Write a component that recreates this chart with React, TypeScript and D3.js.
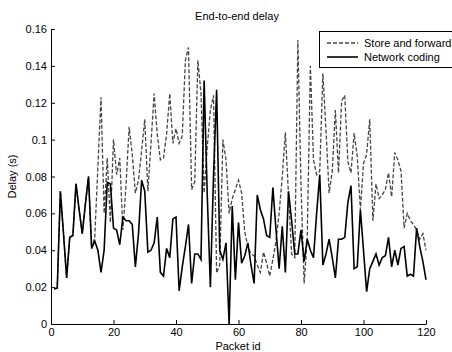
import * as d3 from "d3";
import { useRef, useEffect } from "react";

// packet ids 1..120
const packetIds = d3.range(1, 121);

const networkCoding = [
  0.019, 0.0195, 0.072, 0.049, 0.025, 0.047, 0.048, 0.076, 0.062, 0.049,
  0.065, 0.08, 0.041, 0.045, 0.04, 0.028, 0.04, 0.077, 0.076, 0.052,
  0.051, 0.043, 0.058, 0.056, 0.056, 0.054, 0.031, 0.049, 0.078, 0.072,
  0.039, 0.04, 0.044, 0.058, 0.028, 0.026, 0.041, 0.036, 0.057, 0.058,
  0.018, 0.031, 0.042, 0.054, 0.022, 0.038, 0.038, 0.035, 0.132, 0.07,
  0.02, 0.08, 0.127, 0.04, 0.035, 0.044, 0.0, 0.064, 0.024, 0.055,
  0.033, 0.037, 0.044, 0.032, 0.022, 0.07, 0.062, 0.057, 0.048, 0.047,
  0.074, 0.051, 0.03, 0.053, 0.028, 0.072, 0.056, 0.038, 0.038, 0.051,
  0.034, 0.046, 0.04, 0.036, 0.06, 0.081, 0.032, 0.038, 0.046, 0.036,
  0.025, 0.046, 0.046, 0.047, 0.066, 0.075, 0.03, 0.031, 0.062, 0.04,
  0.0175, 0.03, 0.034, 0.038, 0.032, 0.036, 0.037, 0.047, 0.031, 0.04,
  0.032, 0.041, 0.042, 0.026, 0.027, 0.026, 0.052, 0.042, 0.034, 0.024,
];

const storeAndForward = [
  0.019, 0.0195, 0.072, 0.049, 0.025, 0.047, 0.048, 0.076, 0.062, 0.049,
  0.065, 0.08, 0.041, 0.047, 0.085, 0.123, 0.06, 0.09, 0.055, 0.1,
  0.081, 0.09, 0.051, 0.075, 0.107, 0.092, 0.071, 0.078, 0.094, 0.111,
  0.072, 0.098, 0.125, 0.103, 0.089, 0.09, 0.103, 0.125, 0.098, 0.106,
  0.098, 0.102, 0.143, 0.15, 0.073, 0.077, 0.143, 0.125, 0.071, 0.096,
  0.116, 0.124, 0.0276, 0.032, 0.1, 0.089, 0.06, 0.068, 0.073, 0.078,
  0.071, 0.05, 0.042, 0.038, 0.037, 0.032, 0.028, 0.039, 0.033, 0.026,
  0.035, 0.045, 0.06, 0.08, 0.104, 0.07, 0.038, 0.036, 0.154, 0.075,
  0.022, 0.047, 0.14, 0.089, 0.081, 0.083, 0.136, 0.105, 0.071, 0.083,
  0.116, 0.082, 0.121, 0.124, 0.088, 0.082, 0.1035, 0.091, 0.062, 0.087,
  0.092, 0.111, 0.056, 0.076, 0.068, 0.07, 0.073, 0.082, 0.069, 0.093,
  0.089, 0.083, 0.052, 0.06, 0.056, 0.054, 0.051, 0.046, 0.049, 0.04,
];

const xTicks = [0, 20, 40, 60, 80, 100, 120];
const yTicks = [0, 0.02, 0.04, 0.06, 0.08, 0.1, 0.12, 0.14, 0.16];

export default function App() {
  const width = 452;
  const height = 352;
  const marginLeft = 51;
  const marginRight = 26;
  const marginTop = 29;
  const marginBottom = 28;
  const font = "'Liberation Sans', Arial, Helvetica, sans-serif";

  const gx = useRef(null);
  const gy = useRef(null);

  const x = d3.scaleLinear().domain([0, 120]).range([marginLeft, width - marginRight]);
  const y = d3.scaleLinear().domain([0, 0.16]).range([height - marginBottom, marginTop]);

  const line = d3
    .line<number>()
    .x((d, i) => x(packetIds[i]))
    .y((d) => y(d));

  useEffect(() => {
    const ax = d3
      .axisBottom(x)
      .tickValues(xTicks)
      .tickSizeInner(-4)
      .tickSizeOuter(0)
      .tickPadding(4)
      .tickFormat(d3.format("d"));
    const g = d3.select(gx.current).call(ax);
    g.attr("font-family", font).attr("font-size", 11);
    g.selectAll("text").attr("fill", "#000");
    g.selectAll("line, path").attr("stroke", "#000");
  }, []);

  useEffect(() => {
    const ay = d3
      .axisLeft(y)
      .tickValues(yTicks)
      .tickSizeInner(-4)
      .tickSizeOuter(0)
      .tickPadding(4)
      .tickFormat((d) => (d === 0 ? "0" : String(+(+d).toFixed(2))));
    const g = d3.select(gy.current).call(ay);
    g.attr("font-family", font).attr("font-size", 11);
    g.selectAll("text").attr("fill", "#000");
    g.selectAll("line, path").attr("stroke", "#000");
  }, []);

  return (
    <svg
      width={width}
      height={height}
      style={{ position: "absolute", left: 0, top: 0, background: "#fff" }}
    >
      <rect width={width} height={height} fill="#fff" />
      <text x={237} y={20} textAnchor="middle" fontFamily={font} fontSize={11}>
        End-to-end delay
      </text>
      <path
        d={line(storeAndForward) || ""}
        fill="none"
        stroke="#444"
        strokeWidth={1.3}
        strokeDasharray="4,2"
      />
      <path
        d={line(networkCoding) || ""}
        fill="none"
        stroke="#000"
        strokeWidth={1.6}
        strokeLinejoin="miter"
      />
      <g ref={gx} transform={`translate(0,${height - marginBottom})`} />
      <g ref={gy} transform={`translate(${marginLeft},0)`} />
      <text x={238} y={350} textAnchor="middle" fontFamily={font} fontSize={11}>
        Packet id
      </text>
      <text
        transform={`translate(16,${(marginTop + height - marginBottom) / 2}) rotate(-90)`}
        textAnchor="middle"
        fontFamily={font}
        fontSize={11}
      >
        Delay (s)
      </text>
      {/* legend */}
      <g fontFamily={font} fontSize={11}>
        <rect x={319.5} y={31.5} width={140} height={36} fill="#fff" stroke="#000" />
        <line x1={327} x2={358} y1={43} y2={43} stroke="#444" strokeWidth={1.3} strokeDasharray="4,2" />
        <text x={364} y={47}>Store and forward</text>
        <line x1={327} x2={358} y1={57} y2={57} stroke="#000" strokeWidth={1.6} />
        <text x={364} y={61}>Network coding</text>
      </g>
    </svg>
  );
}
